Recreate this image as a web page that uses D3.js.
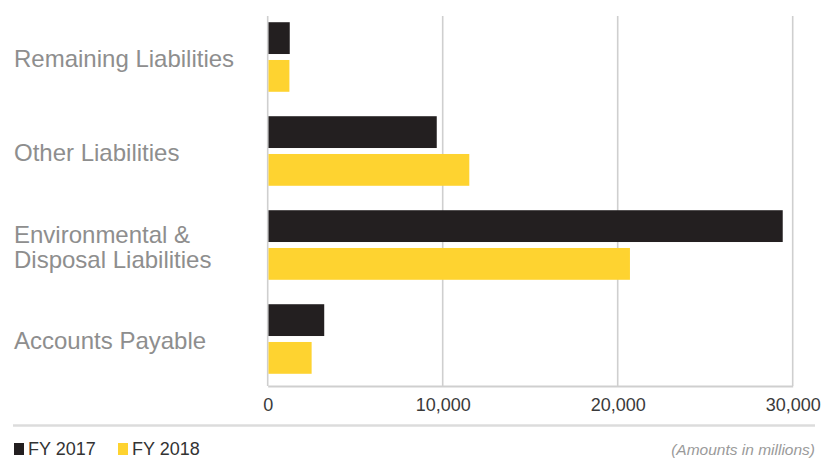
<!DOCTYPE html>
<html>
<head>
<meta charset="utf-8">
<script src="https://cdn.jsdelivr.net/npm/d3@7"></script>
<style>
  html, body { margin: 0; padding: 0; background: #ffffff; }
  svg { display: block; font-family: "Liberation Sans", Arial, Helvetica, sans-serif; }
</style>
</head>
<body>
<svg id="chart" width="821" height="459"></svg>
<script>
// Liabilities by category, amounts in millions
const categories = [
  "Remaining Liabilities",
  "Other Liabilities",
  "Environmental & Disposal Liabilities",
  "Accounts Payable"
];
const seriesNames = ["FY 2017", "FY 2018"];
const fy2017 = [1260, 9660, 29430, 3230];
const fy2018 = [1240, 11520, 20700, 2510];
const tickValues = [0, 10000, 20000, 30000];
const unitNote = "(Amounts in millions)";

const colors = { "FY 2017": "#231f20", "FY 2018": "#fed330" };

const rows = categories.map((c, i) => ({
  category: c,
  values: [
    { series: "FY 2017", value: fy2017[i] },
    { series: "FY 2018", value: fy2018[i] }
  ]
}));

const svg = d3.select("#chart");

const plot = { left: 267.7, right: 792.7, top: 10, bottom: 386 };

const x = d3.scaleLinear().domain([0, 30000]).range([plot.left, plot.right]);
const y0 = d3.scaleBand().domain(categories).range([plot.top, plot.bottom])
  .paddingInner(0.26).paddingOuter(0.13);
const y1 = d3.scaleBand().domain(seriesNames).range([0, y0.bandwidth()])
  .paddingInner(0.158);

// vertical grid lines
svg.append("g")
  .selectAll("line")
  .data(tickValues)
  .join("line")
  .attr("x1", d => x(d)).attr("x2", d => x(d))
  .attr("y1", 16).attr("y2", plot.bottom)
  .attr("stroke", "#cfcfcf")
  .attr("stroke-width", 1.6);

// bottom axis
const axis = svg.append("g")
  .attr("transform", `translate(0,${plot.bottom})`)
  .call(d3.axisBottom(x).tickValues(tickValues).tickFormat(d3.format(",")).tickSize(0).tickPadding(12));
axis.select(".domain").attr("stroke", "#cfcfcf").attr("stroke-width", 2);
axis.selectAll(".tick text")
  .attr("fill", "#3a3a3a")
  .attr("font-size", 18)
  .attr("font-family", "'Liberation Sans', Arial, sans-serif");

// bars
const groups = svg.append("g")
  .selectAll("g")
  .data(rows)
  .join("g")
  .attr("transform", d => `translate(0,${y0(d.category)})`);

groups.selectAll("rect")
  .data(d => d.values)
  .join("rect")
  .attr("x", x(0) + 0.8)
  .attr("y", d => y1(d.series))
  .attr("width", d => x(d.value) - x(0) - 0.8)
  .attr("height", y1.bandwidth())
  .attr("fill", d => colors[d.series]);

// category labels, wrapped to fit the left margin; one text element per line
const labelFont = 24;
const labelMax = 240;
const lineHeight = 25;
const labelLayer = svg.append("g");

const measure = labelLayer.append("text").attr("font-size", labelFont);
function wrap(str) {
  const words = str.split(" ");
  const lines = [];
  let line = [];
  words.forEach(w => {
    line.push(w);
    measure.text(line.join(" "));
    if (measure.node().getComputedTextLength() > labelMax && line.length > 1) {
      line.pop();
      lines.push(line.join(" "));
      line = [w];
    }
  });
  lines.push(line.join(" "));
  return lines;
}

categories.forEach(c => {
  const lines = wrap(c);
  const cy = y0(c) + y0.bandwidth() / 2 + 2;
  const first = cy - (lines.length - 1) * lineHeight / 2;
  lines.forEach((l, i) => {
    labelLayer.append("text")
      .attr("x", 14)
      .attr("y", first + i * lineHeight)
      .attr("dy", "0.35em")
      .attr("fill", "#8e8e8e")
      .attr("font-size", labelFont)
      .text(l);
  });
});
measure.remove();

// separator line
svg.append("line")
  .attr("x1", 13).attr("x2", 815)
  .attr("y1", 425.5).attr("y2", 425.5)
  .attr("stroke", "#dcdcdc")
  .attr("stroke-width", 2.5);

// legend
const legend = svg.append("g").attr("transform", "translate(0,449)");
const legendX = [14, 118];
seriesNames.forEach((s, i) => {
  legend.append("rect")
    .attr("x", legendX[i]).attr("y", -6)
    .attr("width", 10).attr("height", 12)
    .attr("fill", colors[s]);
  legend.append("text")
    .attr("x", legendX[i] + 14).attr("y", 0).attr("dy", "0.36em")
    .attr("fill", "#333333")
    .attr("font-size", 18)
    .text(s);
});

svg.append("text")
  .attr("x", 815).attr("y", 449).attr("dy", "0.36em")
  .attr("text-anchor", "end")
  .attr("font-style", "italic")
  .attr("font-size", 15.5)
  .attr("fill", "#9a9a9a")
  .text(unitNote);
</script>
</body>
</html>
